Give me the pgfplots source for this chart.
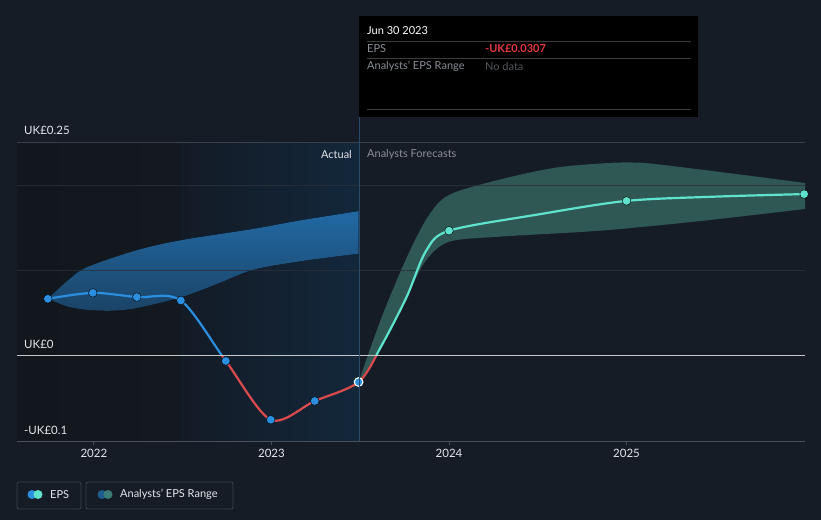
\documentclass[border=0pt]{standalone}
\usepackage{pgfplots}
\pgfplotsset{compat=1.18}
\usepgfplotslibrary{fillbetween}
\usepackage{fontspec}
\setmainfont{Lato}
\definecolor{bg}{HTML}{161C26}
\definecolor{darkreg}{HTML}{12161D}
\definecolor{darkreg2}{HTML}{14181F}
\definecolor{hiL}{HTML}{131B26}
\definecolor{hiR}{HTML}{13273B}
\definecolor{gridc}{HTML}{2A3039}
\definecolor{topline}{HTML}{3A4049}
\definecolor{zeroc}{HTML}{C4C6CA}
\definecolor{axisc}{HTML}{4A5059}
\definecolor{vline}{HTML}{2A4A68}
\definecolor{epsblue}{HTML}{2B8FE0}
\definecolor{epsred}{HTML}{DB4A4D}
\definecolor{epsteal}{HTML}{5FE3CC}
\definecolor{bandtop}{HTML}{2169A4}
\definecolor{bandbot}{HTML}{1B4366}
\definecolor{tealband}{HTML}{2F5855}
\definecolor{labc}{HTML}{E4E6EA}
\definecolor{greyt}{HTML}{8A8F97}
\definecolor{ttline}{HTML}{3C3C3C}
\definecolor{ttred}{HTML}{E5393E}
\definecolor{legborder}{HTML}{3D434D}
\definecolor{legdark1}{HTML}{1F5C8E}
\definecolor{legdark2}{HTML}{3A7D77}
\pgfplotstableread{
x y
2021.741 0.067
2021.994 0.074
2022.242 0.069
2022.49 0.065
2022.743 -0.006
2022.996 -0.075
2023.244 -0.053
2023.491 -0.0307
2023.62 0.012
2023.761 0.069
2023.87 0.123
2024.0 0.147
2024.5 0.166
2025.0 0.182
2025.5 0.187
2026.0 0.190
}\epsline
\begin{document}
\pagecolor{bg}%
\begin{tikzpicture}[x=1pt,y=1pt]
\begin{axis}[
  set layers,
  at={(17pt,79pt)}, anchor=south west,
  scale only axis, width=788pt, height=298pt,
  xmin=2021.567, xmax=2026.005, ymin=-0.1, ymax=0.25,
  axis line style={draw=none},
  ytick=\empty,
  xtick={2022,2023,2024,2025},
  xticklabels={2022,2023,2024,2025},
  xtick pos=bottom,
  xticklabel style={font=\fontsize{11.5}{13}\selectfont, text=labc, yshift=-1pt},
  tick align=outside, major tick length=4pt,
  tick style={draw=axisc, line width=0.8pt},
  /pgf/number format/assume math mode=true,
  clip=true,
]
% background regions
\begin{pgfonlayer}{axis background}
\fill[left color=darkreg, right color=darkreg2] (axis cs:2021.567,-0.1) rectangle (axis cs:2022.49,0.25);
\fill[left color=hiL, right color=hiR] (axis cs:2022.49,-0.1) rectangle (axis cs:2023.491,0.25);
\end{pgfonlayer}
% past range band
\addplot[name path=bu, draw=none, smooth] coordinates {
 (2021.741,0.067) (2021.85,0.088) (2021.96,0.104) (2022.24,0.124) (2022.495,0.136) (2022.895,0.149) (2023.16,0.159) (2023.491,0.170)};
\addplot[name path=bl, draw=none, smooth] coordinates {
 (2021.741,0.067) (2021.85,0.058) (2021.96,0.054) (2022.10,0.053) (2022.24,0.056) (2022.495,0.069) (2022.70,0.085) (2022.895,0.101) (2023.16,0.111) (2023.491,0.120)};
\addplot[top color=bandtop, bottom color=bandbot, draw=none] fill between[of=bu and bl];
% forecast band
\addplot[name path=fu, draw=none, smooth] coordinates {
 (2023.491,-0.0307) (2023.62,0.045) (2023.761,0.115) (2023.88,0.163) (2024.0,0.189) (2024.285,0.207) (2024.60,0.221) (2024.90,0.2265) (2025.10,0.2265) (2025.41,0.219) (2025.75,0.210) (2026.005,0.203)};
\addplot[name path=fl, draw=none, smooth] coordinates {
 (2023.491,-0.0307) (2023.62,0.010) (2023.761,0.069) (2023.87,0.112) (2024.0,0.134) (2024.285,0.140) (2024.848,0.147) (2025.40,0.158) (2026.005,0.1725)};
\addplot[fill=tealband, draw=none] fill between[of=fu and fl];
% grid
\draw[gridc, line width=0.8pt, opacity=0.8] (axis cs:2021.567,0.2) -- (axis cs:2026.005,0.2);
\draw[gridc, line width=0.8pt, opacity=0.8] (axis cs:2021.567,0.1) -- (axis cs:2026.005,0.1);
\draw[topline, line width=1pt] (axis cs:2021.567,0.25) -- (axis cs:2026.005,0.25);
% EPS line, coloured by clipping
\begin{scope}
\clip (axis cs:2021.0,0) rectangle (axis cs:2023.491,0.5);
\addplot[epsblue, line width=2.2pt, smooth] table {\epsline};
\end{scope}
\begin{scope}
\clip (axis cs:2023.491,0) rectangle (axis cs:2027,0.5);
\addplot[epsteal, line width=2.2pt, smooth] table {\epsline};
\end{scope}
\begin{scope}
\clip (axis cs:2021.0,-0.5) rectangle (axis cs:2027,0);
\addplot[epsred, line width=2.2pt, smooth] table {\epsline};
\end{scope}
% zero line and bottom axis line
\draw[zeroc, line width=1.2pt] (axis cs:2021.567,0) -- (axis cs:2026.005,0);
\draw[axisc, line width=1pt] (axis cs:2021.567,-0.1) -- (axis cs:2026.005,-0.1);
% dots
\addplot[only marks, mark=*, mark size=4.3pt, mark options={fill=epsblue, draw=none}] coordinates {
 (2021.741,0.067) (2021.994,0.074) (2022.242,0.069) (2022.49,0.065) (2022.743,-0.006) (2022.996,-0.075) (2023.244,-0.053)};
\addplot[only marks, mark=*, mark size=4.3pt, mark options={fill=epsblue, draw=white, line width=1.1pt}] coordinates {(2023.491,-0.0307)};
\addplot[only marks, mark=*, mark size=4.3pt, mark options={fill=epsteal, draw=none}] coordinates {
 (2024.0,0.147) (2025.0,0.182) (2026.0,0.190)};
\end{axis}
% vertical separator
\draw[vline, line width=0.8pt] (359,79) -- (359,403);
% y labels
\node[anchor=west, text=labc, font=\fontsize{11.5}{13}\selectfont, inner sep=0pt] at (24,390) {UK£0.25};
\node[anchor=west, text=labc, font=\fontsize{11.5}{13}\selectfont, inner sep=0pt] at (24,176) {UK£0};
\node[anchor=west, text=labc, font=\fontsize{11.5}{13}\selectfont, inner sep=0pt] at (24,90) {-UK£0.1};
% region labels
\node[anchor=east, text=labc, font=\fontsize{11}{13}\selectfont, inner sep=0pt] at (352,366) {Actual};
\node[anchor=west, text=greyt, font=\fontsize{11}{13}\selectfont, inner sep=0pt] at (367,366) {Analysts Forecasts};
% tooltip
\fill[black] (359,403) rectangle (698,504);
\node[anchor=west, text=white, font=\fontsize{11}{13}\selectfont, inner sep=0pt] at (367,489) {Jun 30 2023};
\draw[ttline, line width=0.8pt] (367,479) -- (691,479);
\draw[ttline, line width=0.8pt] (367,462) -- (691,462);
\draw[ttline, line width=0.8pt] (367,411) -- (691,411);
\node[anchor=west, text=greyt, font=\fontsize{11}{13}\selectfont, inner sep=0pt] at (367,471) {EPS};
\node[anchor=west, text=ttred, font=\bfseries\fontsize{11}{13}\selectfont, inner sep=0pt] at (485,471) {-UK£0.0307};
\node[anchor=west, text=greyt, font=\fontsize{11}{13}\selectfont, inner sep=0pt] at (367,454) {Analysts' EPS Range};
\node[anchor=west, text=greyt!60!black, font=\fontsize{11}{13}\selectfont, inner sep=0pt] at (485,454) {No data};
% legend
\draw[legborder, line width=0.8pt, rounded corners=2pt] (17,11) rectangle (81,38);
\fill[epsblue] (32,25.5) circle (4.5);
\fill[epsteal] (38,25.5) circle (4.5);
\node[anchor=west, text=labc, font=\fontsize{11}{13}\selectfont, inner sep=0pt] at (50,25.5) {EPS};
\draw[legborder, line width=0.8pt, rounded corners=2pt] (86,11) rectangle (233,38);
\fill[legdark1] (102,25.5) circle (4.5);
\fill[legdark2] (108,25.5) circle (4.5);
\node[anchor=west, text=labc, font=\fontsize{11}{13}\selectfont, inner sep=0pt] at (120,25.5) {Analysts' EPS Range};
\pgfresetboundingbox
\useasboundingbox (0,0) rectangle (821,520);
\end{tikzpicture}
\end{document}
